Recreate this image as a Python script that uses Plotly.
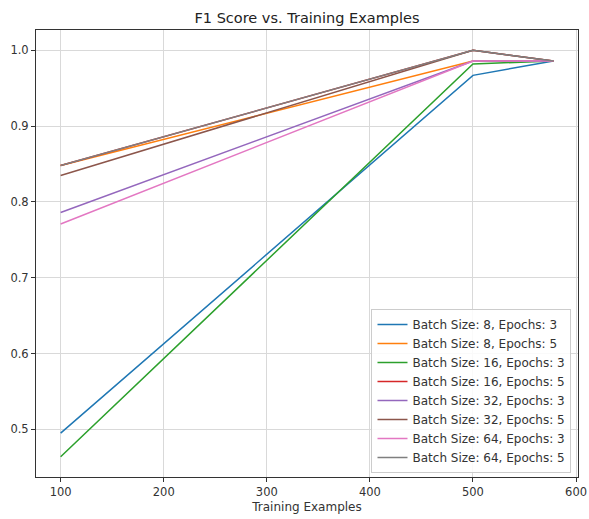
import plotly.graph_objects as go

training_examples = [100, 500, 578]

series_names = [
    "Batch Size: 8, Epochs: 3",
    "Batch Size: 8, Epochs: 5",
    "Batch Size: 16, Epochs: 3",
    "Batch Size: 16, Epochs: 5",
    "Batch Size: 32, Epochs: 3",
    "Batch Size: 32, Epochs: 5",
    "Batch Size: 64, Epochs: 3",
    "Batch Size: 64, Epochs: 5",
]

b8_e3 = [0.495, 0.967, 0.986]
b8_e5 = [0.848, 0.986, 0.986]
b16_e3 = [0.464, 0.982, 0.986]
b16_e5 = [0.848, 1.0, 0.986]
b32_e3 = [0.786, 0.986, 0.986]
b32_e5 = [0.835, 1.0, 0.986]
b64_e3 = [0.771, 0.986, 0.986]
b64_e5 = [0.848, 1.0, 0.986]

series_values = [b8_e3, b8_e5, b16_e3, b16_e5, b32_e3, b32_e5, b64_e3, b64_e5]

colors = ["#1f77b4", "#ff7f0e", "#2ca02c", "#d62728",
          "#9467bd", "#8c564b", "#e377c2", "#7f7f7f"]

x_ticks = [100, 200, 300, 400, 500, 600]
y_ticks = [0.5, 0.6, 0.7, 0.8, 0.9, 1.0]

fig = go.Figure()
for name, vals, c in zip(series_names, series_values, colors):
    fig.add_trace(go.Scatter(x=training_examples, y=vals, mode="lines", name=name,
                             line=dict(color=c, width=1.5)))

axis_common = dict(
    showline=True, linecolor="#333333", linewidth=1, mirror=True,
    showgrid=True, gridcolor="#d9d9d9", gridwidth=1,
    ticks="outside", ticklen=4, tickcolor="#333333",
    tickfont=dict(family="DejaVu Sans", size=11.5, color="#333333"),
    zeroline=False, automargin=False,
)

fig.update_xaxes(range=[76.1, 601.9], tickvals=x_ticks,
                 title=dict(text="Training Examples", font=dict(family="DejaVu Sans", size=12, color="#333333"), standoff=4),
                 **axis_common)
fig.update_yaxes(range=[0.4372, 1.0268], tickvals=y_ticks, tickformat=".1f", **axis_common)

fig.update_layout(
    width=589, height=519,
    margin=dict(l=36, r=11, t=30, b=42),
    paper_bgcolor="white", plot_bgcolor="white",
    title=dict(text="F1 Score vs. Training Examples", x=0.5, xref="paper", xanchor="center",
               y=1 - 18 / 519, yanchor="middle", automargin=False,
               font=dict(family="DejaVu Sans", size=14.5, color="#222222")),
    legend=dict(x=0.988, xanchor="right", y=0.009, yanchor="bottom",
                bgcolor="rgba(255,255,255,0.85)", bordercolor="#cccccc", borderwidth=1,
                font=dict(family="DejaVu Sans", size=12, color="#333333"),
                itemwidth=30, tracegroupgap=0),
    showlegend=True,
)

fig.write_html("out.html", config={"displayModeBar": False},
               post_script="document.body.style.margin='0';document.body.style.padding='0';")
